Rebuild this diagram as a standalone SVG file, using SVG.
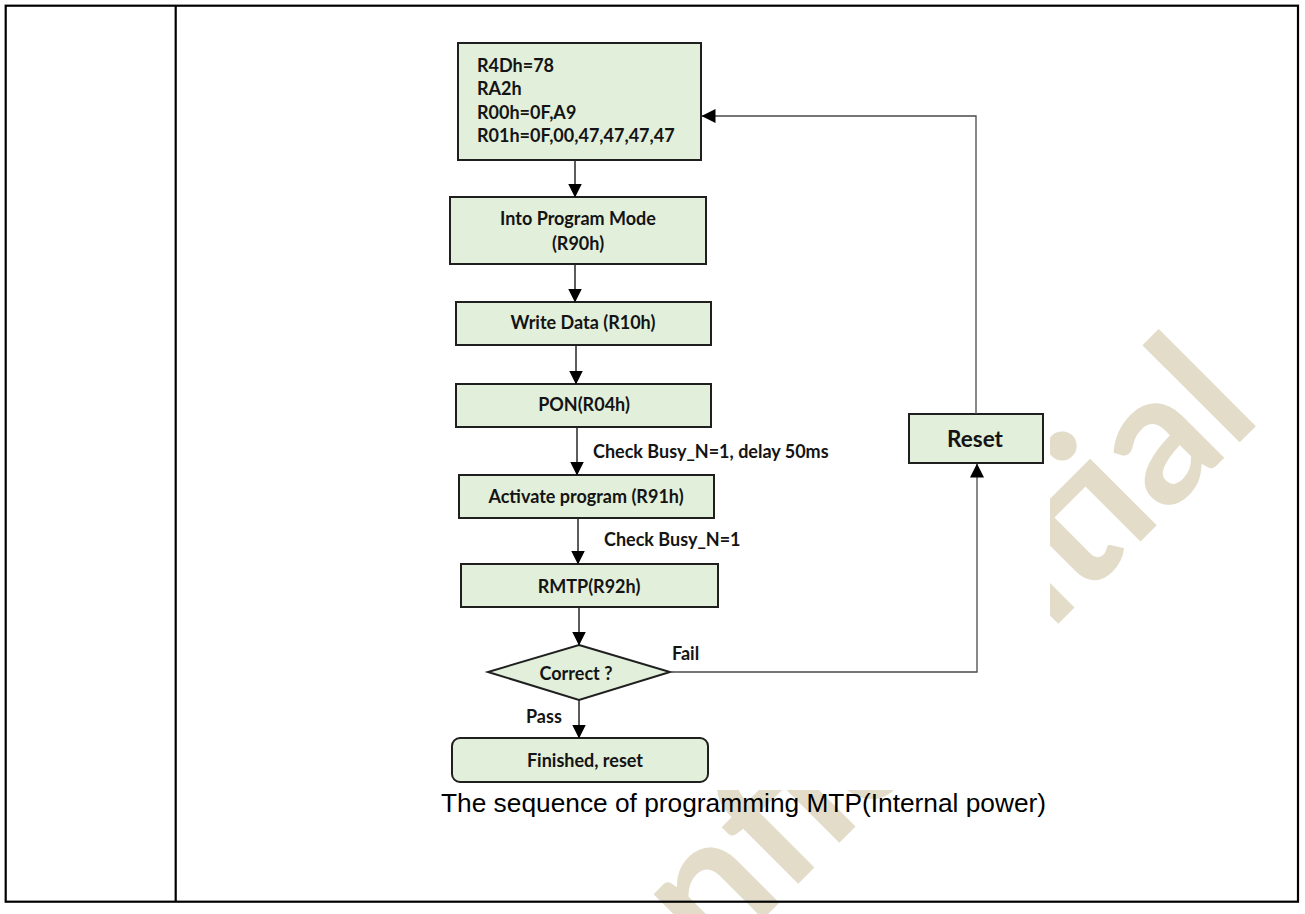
<svg xmlns="http://www.w3.org/2000/svg" width="1305" height="914" viewBox="0 0 1305 914">
  <style>
    .box{fill:#e2efda;stroke:#1f1f1f;stroke-width:2}
    .t{font-family:Lato,"Open Sans",sans-serif;font-weight:700;font-size:18px;fill:#141414}
    .c{text-anchor:middle}
    .ln{fill:none;stroke:#262626;stroke-width:1.5}
    .lp{fill:none;stroke:#4a4a4a;stroke-width:1.3}
    .wm{font-family:Lato,"Open Sans",sans-serif;font-weight:700;font-size:185px;fill:#e2dcc9}
    .cap{font-family:"Liberation Sans",Arial,sans-serif;font-size:26.3px;fill:#000}
    .frame{fill:none;stroke:#000;stroke-width:2.2}
  </style>
  <defs>
    <marker id="arrow" viewBox="0 0 14 14" refX="13.5" refY="7" markerWidth="14" markerHeight="14" markerUnits="userSpaceOnUse" orient="auto">
      <path d="M0,0 L14,7 L0,14 z" fill="#000"/>
    </marker>
  </defs>

  <!-- page -->
  <rect width="1305" height="914" fill="#fff"/>

  <!-- background watermark -->
  <text class="wm" transform="translate(1264,418) rotate(-45)" text-anchor="end">Confidential</text>

  <!-- flowchart picture background -->
  <rect x="430" y="28" width="620" height="762" fill="#fff"/>

  <g id="n-init">
    <rect class="box" x="458" y="43" width="243" height="117"/>
    <text class="t" x="477" y="72">R4Dh=78</text>
    <text class="t" x="477" y="95">RA2h</text>
    <text class="t" x="477" y="119">R00h=0F,A9</text>
    <text class="t" x="477" y="142">R01h=0F,00,47,47,47,47</text>
  </g>
  <g id="n-program-mode">
    <rect class="box" x="450" y="197" width="256" height="67"/>
    <text class="t c" x="578" y="225">Into Program Mode</text>
    <text class="t c" x="578" y="250">(R90h)</text>
  </g>
  <g id="n-write-data">
    <rect class="box" x="456" y="302" width="255" height="43"/>
    <text class="t c" x="583" y="329">Write Data (R10h)</text>
  </g>
  <g id="n-pon">
    <rect class="box" x="456" y="384" width="255" height="43"/>
    <text class="t c" x="584" y="411">PON(R04h)</text>
  </g>
  <g id="n-activate">
    <rect class="box" x="459" y="475" width="255" height="43"/>
    <text class="t c" x="586" y="503">Activate program (R91h)</text>
  </g>
  <g id="n-rmtp">
    <rect class="box" x="461" y="564" width="257" height="43"/>
    <text class="t c" x="589" y="593">RMTP(R92h)</text>
  </g>
  <g id="n-correct">
    <polygon class="box" points="579,645 670,672 579,700 488,672"/>
    <text class="t c" x="576" y="680">Correct ?</text>
  </g>
  <g id="n-finished">
    <rect class="box" x="452" y="738" width="256" height="44" rx="8" ry="8"/>
    <text class="t c" x="585" y="767">Finished, reset</text>
  </g>
  <g id="n-reset">
    <rect class="box" x="909" y="414" width="134" height="49"/>
    <text class="t c" x="975" y="447" style="font-size:22.5px">Reset</text>
  </g>

  <g id="connectors">
    <line class="ln" x1="575" y1="160" x2="575" y2="197" marker-end="url(#arrow)"/>
    <line class="ln" x1="575" y1="264" x2="575" y2="302" marker-end="url(#arrow)"/>
    <line class="ln" x1="576" y1="345" x2="576" y2="384" marker-end="url(#arrow)"/>
    <line class="ln" x1="577" y1="427" x2="577" y2="475" marker-end="url(#arrow)"/>
    <line class="ln" x1="578" y1="518" x2="578" y2="564" marker-end="url(#arrow)"/>
    <line class="ln" x1="579" y1="607" x2="579" y2="645" marker-end="url(#arrow)"/>
    <line class="ln" x1="579" y1="700" x2="579" y2="738" marker-end="url(#arrow)"/>
    <path class="lp" d="M670,672 H977 V464" marker-end="url(#arrow)"/>
    <path class="lp" d="M976,414 V116 H702" marker-end="url(#arrow)"/>
    <text class="t" x="593" y="458">Check Busy_N=1, delay 50ms</text>
    <text class="t" x="604" y="546">Check Busy_N=1</text>
    <text class="t" x="672" y="660">Fail</text>
    <text class="t" x="526" y="723">Pass</text>
  </g>

  <!-- caption -->
  <text class="cap" x="441" y="812">The sequence of programming MTP(Internal power)</text>

  <!-- table frame -->
  <rect class="frame" x="5.7" y="5.7" width="1292.3" height="896"/>
  <line class="frame" x1="175.7" y1="5.7" x2="175.7" y2="901.7"/>
</svg>
